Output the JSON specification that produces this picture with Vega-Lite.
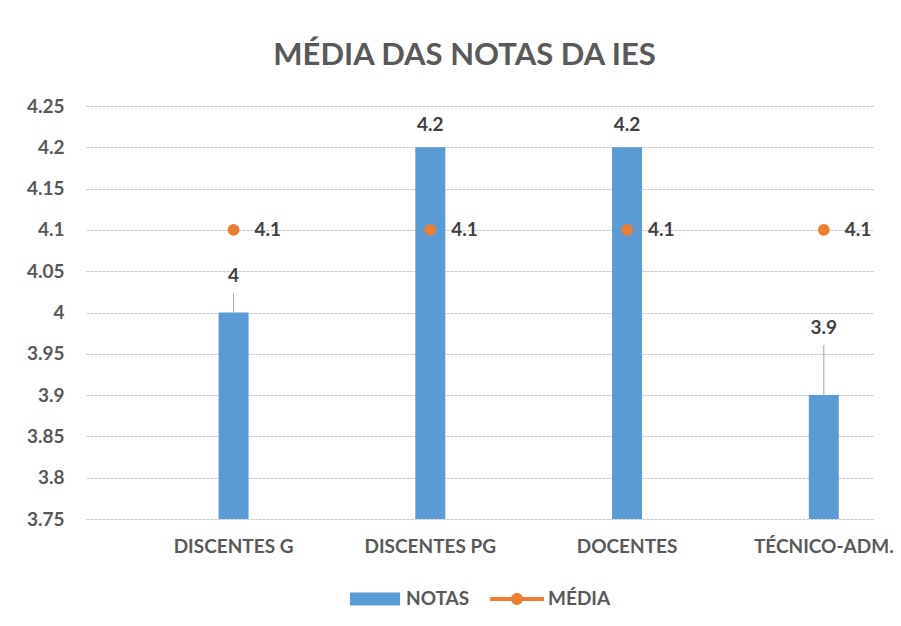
{
  "$schema": "https://vega.github.io/schema/vega-lite/v6.json",
  "autosize": {"type": "none"},
  "width": 787,
  "height": 413,
  "padding": {"left": 86, "top": 106, "right": 28, "bottom": 107},
  "background": "#FFFFFF",
  "title": {
    "text": "MÉDIA DAS NOTAS DA IES",
    "font": "Lato",
    "fontSize": 31,
    "fontWeight": "bold",
    "color": "#595959",
    "anchor": "middle",
    "frame": "group",
    "dx": -15,
    "offset": 25
  },
  "config": {
    "view": {"stroke": null},
    "font": "Lato",
    "axis": {
      "labelFont": "Lato",
      "labelFontWeight": "bold",
      "labelColor": "#595959",
      "labelFontSize": 19,
      "ticks": false,
      "tickSize": 0,
      "domain": false,
      "title": null
    },
    "legend": {
      "labelFont": "Lato",
      "labelFontWeight": "bold",
      "labelFontSize": 19,
      "labelColor": "#595959",
      "layout": {"bottom": {"anchor": "middle"}}
    }
  },
  "data": {
    "values": [
      {"categoria": "DISCENTES G", "notas": 4.0, "media": 4.1},
      {"categoria": "DISCENTES PG", "notas": 4.2, "media": 4.1},
      {"categoria": "DOCENTES", "notas": 4.2, "media": 4.1},
      {"categoria": "TÉCNICO-ADM.", "notas": 3.9, "media": 4.1}
    ]
  },
  "encoding": {
    "x": {
      "field": "categoria",
      "type": "nominal",
      "sort": null,
      "scale": {"paddingInner": 0.5, "paddingOuter": 0.25, "align": 1},
      "axis": {"labelAngle": 0, "labelPadding": 18, "grid": false}
    }
  },
  "layer": [
    {
      "mark": {"type": "bar", "size": 30},
      "encoding": {
        "y": {
          "field": "notas",
          "type": "quantitative",
          "scale": {"domain": [3.75, 4.25], "zero": false, "nice": false},
          "axis": {
            "values": [3.75, 3.8, 3.85, 3.9, 3.95, 4.0, 4.05, 4.1, 4.15, 4.2, 4.25],
            "format": ".2~f",
            "labelPadding": 22,
            "grid": true,
            "gridColor": "#C8C8C8",
            "gridDash": [3, 1],
            "gridWidth": 1
          }
        },
        "y2": {"datum": 3.75},
        "color": {
          "datum": "NOTAS",
          "type": "nominal",
          "scale": {"domain": ["NOTAS", "MÉDIA"], "range": ["#5B9BD5", "#ED7D31"]},
          "legend": {
            "title": null,
            "orient": "bottom",
            "direction": "horizontal",
            "offset": 16,
            "symbolSize": 2900,
            "symbolStrokeWidth": 0,
            "labelOffset": 4,
            "columnPadding": 20,
            "encode": {
              "symbols": {
                "update": {
                  "shape": {"signal": "datum.value === 'NOTAS' ? 'M-0.93,-0.24H0.93V0.24H-0.93Z' : 'M-1,-0.075H1V0.075H-1Z M-0.22,0A0.22,0.22 0 1,1 0.22,0A0.22,0.22 0 1,1 -0.22,0Z'"}
                }
              }
            }
          }
        }
      }
    },
    {
      "mark": {"type": "point", "filled": true, "size": 140, "opacity": 1},
      "encoding": {
        "y": {"field": "media", "type": "quantitative"},
        "color": {"datum": "MÉDIA", "type": "nominal"}
      }
    },
    {
      "mark": {"type": "text", "align": "left", "baseline": "middle", "dx": 21, "font": "Lato", "fontWeight": "bold", "fontSize": 19, "color": "#404040"},
      "encoding": {
        "y": {"field": "media", "type": "quantitative"},
        "text": {"field": "media", "type": "quantitative", "format": ".1f"}
      }
    },
    {
      "transform": [{"filter": "datum.notas >= 4.1"}],
      "mark": {"type": "text", "align": "center", "baseline": "middle", "dy": -22, "font": "Lato", "fontWeight": "bold", "fontSize": 19, "color": "#404040"},
      "encoding": {
        "y": {"field": "notas", "type": "quantitative"},
        "text": {"field": "notas", "type": "quantitative", "format": ".1f"}
      }
    },
    {
      "transform": [{"filter": "datum.categoria === 'DISCENTES G'"}],
      "layer": [
        {
          "mark": {"type": "rule", "color": "#A6A6A6", "strokeWidth": 1},
          "encoding": {"y": {"field": "notas", "type": "quantitative"}, "y2": {"datum": 4.0236}}
        },
        {
          "mark": {"type": "text", "align": "center", "baseline": "middle", "font": "Lato", "fontWeight": "bold", "fontSize": 19, "color": "#404040"},
          "encoding": {"y": {"datum": 4.044}, "text": {"field": "notas", "type": "quantitative", "format": "~g"}}
        }
      ]
    },
    {
      "transform": [{"filter": "datum.categoria === 'TÉCNICO-ADM.'"}],
      "layer": [
        {
          "mark": {"type": "rule", "color": "#A6A6A6", "strokeWidth": 1},
          "encoding": {"y": {"field": "notas", "type": "quantitative"}, "y2": {"datum": 3.9607}}
        },
        {
          "mark": {"type": "text", "align": "center", "baseline": "middle", "font": "Lato", "fontWeight": "bold", "fontSize": 19, "color": "#404040"},
          "encoding": {"y": {"datum": 3.981}, "text": {"field": "notas", "type": "quantitative", "format": ".1f"}}
        }
      ]
    }
  ]
}
